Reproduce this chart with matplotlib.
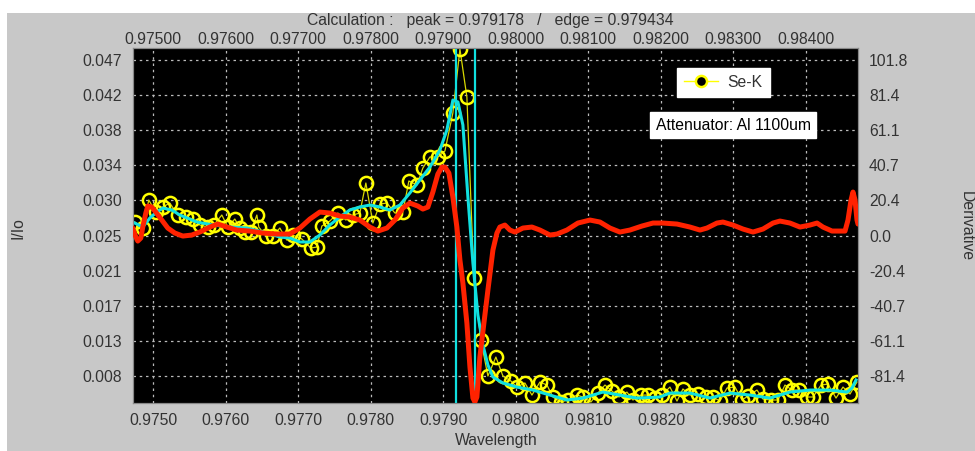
#!/usr/bin/env python

import matplotlib
matplotlib.use('Agg')
import matplotlib.pyplot as plt
from matplotlib.patches import Rectangle
from matplotlib.lines import Line2D


PEAK = 0.979178
EDGE = 0.979434
ATTENUATOR = 'Attenuator: Al 1100um'

# Se-K scan, I/Io
SCAN_WL = [0.974745, 0.974855, 0.974938, 0.975034, 0.975131, 0.975228, 0.975338,
           0.975448, 0.975545, 0.975641, 0.975752, 0.975834, 0.975945, 0.976028,
           0.976124, 0.976193, 0.976262, 0.976345, 0.976428, 0.976455, 0.976552,
           0.976648, 0.976745, 0.976841, 0.976924, 0.977048, 0.977172, 0.977255,
           0.977324, 0.977434, 0.977545, 0.977655, 0.977752, 0.977848, 0.977931,
           0.978028, 0.978124, 0.978221, 0.978331, 0.978441, 0.978524, 0.978634,
           0.978717, 0.978814, 0.978924, 0.979021, 0.979131, 0.979228, 0.979324,
           0.979421, 0.979517, 0.979614, 0.979724, 0.979821, 0.979931, 0.980014,
           0.980124, 0.980221, 0.980331, 0.980428, 0.980510, 0.980621, 0.980717,
           0.980841, 0.980924, 0.981034, 0.981131, 0.981228, 0.981324, 0.981421,
           0.981531, 0.981614, 0.981724, 0.981821, 0.981917, 0.982014, 0.982124,
           0.982221, 0.982303, 0.982400, 0.982510, 0.982621, 0.982717, 0.982814,
           0.982910, 0.983021, 0.983117, 0.983200, 0.983324, 0.983407, 0.983517,
           0.983614, 0.983710, 0.983807, 0.983903, 0.984014, 0.984097, 0.984207,
           0.984303, 0.984414, 0.984510, 0.984607, 0.984703]
SCAN_I = [0.02701, 0.02627, 0.02972, 0.02824, 0.02886, 0.02935, 0.02787,
          0.02762, 0.02738, 0.02664, 0.02639, 0.02664, 0.02787, 0.02639,
          0.02738, 0.02627, 0.02577, 0.02577, 0.02787, 0.02639, 0.02528,
          0.02528, 0.02627, 0.02478, 0.02540, 0.02491, 0.02380, 0.02392,
          0.02651, 0.02713, 0.02812, 0.02725, 0.02787, 0.02812, 0.03182,
          0.02688, 0.02923, 0.02935, 0.02812, 0.02824, 0.03207, 0.03157,
          0.03367, 0.03503, 0.03503, 0.03577, 0.04046, 0.04836, 0.04243,
          0.02009, 0.01244, 0.00800, 0.01034, 0.00800, 0.00738, 0.00664,
          0.00714, 0.00565, 0.00726, 0.00689, 0.00541, 0.00479, 0.00504,
          0.00565, 0.00541, 0.00479, 0.00590, 0.00689, 0.00615, 0.00541,
          0.00602, 0.00504, 0.00565, 0.00565, 0.00528, 0.00565, 0.00664,
          0.00491, 0.00640, 0.00565, 0.00578, 0.00541, 0.00541, 0.00491,
          0.00652, 0.00664, 0.00504, 0.00553, 0.00627, 0.00516, 0.00504,
          0.00504, 0.00689, 0.00627, 0.00627, 0.00541, 0.00541, 0.00689,
          0.00701, 0.00528, 0.00664, 0.00578, 0.00726]

# smoothed scan
FIT_WL = [0.974745, 0.974855, 0.974952, 0.975048, 0.975131, 0.975255, 0.975366,
          0.975600, 0.975821, 0.976055, 0.976290, 0.976510, 0.976745, 0.976883,
          0.977021, 0.977159, 0.977297, 0.977434, 0.977572, 0.977710, 0.977848,
          0.977986, 0.978124, 0.978262, 0.978400, 0.978538, 0.978676, 0.978814,
          0.978952, 0.979048, 0.979131, 0.979200, 0.979269, 0.979338, 0.979407,
          0.979476, 0.979545, 0.979614, 0.979683, 0.979821, 0.980014, 0.980234,
          0.980469, 0.980703, 0.980924, 0.981200, 0.981434, 0.981669, 0.981986,
          0.982124, 0.982400, 0.982676, 0.982952, 0.983228, 0.983503, 0.983779,
          0.984055, 0.984331, 0.984566, 0.984634, 0.984690]
FIT_I = [0.02688, 0.02639, 0.02750, 0.02824, 0.02873, 0.02849, 0.02787,
         0.02701, 0.02664, 0.02639, 0.02627, 0.02577, 0.02516, 0.02503,
         0.02454, 0.02454, 0.02540, 0.02664, 0.02762, 0.02849, 0.02886,
         0.02910, 0.02886, 0.02849, 0.02910, 0.03059, 0.03219, 0.03379,
         0.03589, 0.03836, 0.04206, 0.04182, 0.03898, 0.03009, 0.02195,
         0.01553, 0.01183, 0.00936, 0.00788, 0.00714, 0.00664, 0.00627,
         0.00565, 0.00504, 0.00528, 0.00602, 0.00565, 0.00528, 0.00541,
         0.00590, 0.00590, 0.00528, 0.00590, 0.00565, 0.00528, 0.00602,
         0.00627, 0.00627, 0.00602, 0.00652, 0.00751]

# derivative
DER_WL = [0.974717, 0.974759, 0.974786, 0.974828, 0.974855, 0.974897, 0.974924,
          0.974979, 0.975034, 0.975117, 0.975200, 0.975297, 0.975407, 0.975531,
          0.975641, 0.975779, 0.975890, 0.976014, 0.976152, 0.976331, 0.976510,
          0.976703, 0.976883, 0.977021, 0.977159, 0.977297, 0.977434, 0.977572,
          0.977710, 0.977848, 0.977986, 0.978097, 0.978221, 0.978331, 0.978441,
          0.978538, 0.978648, 0.978717, 0.978786, 0.978855, 0.978924, 0.978979,
          0.979021, 0.979076, 0.979131, 0.979186, 0.979228, 0.979269, 0.979324,
          0.979366, 0.979407, 0.979434, 0.979462, 0.979503, 0.979559, 0.979614,
          0.979683, 0.979738, 0.979779, 0.979848, 0.979917, 0.979986, 0.980097,
          0.980221, 0.980331, 0.980469, 0.980566, 0.980703, 0.980855, 0.981021,
          0.981159, 0.981297, 0.981434, 0.981572, 0.981738, 0.981890, 0.982028,
          0.982221, 0.982400, 0.982538, 0.982634, 0.982772, 0.982855, 0.982993,
          0.983131, 0.983269, 0.983407, 0.983545, 0.983641, 0.983779, 0.983917,
          0.984055, 0.984152, 0.984234, 0.984359, 0.984538, 0.984579, 0.984621,
          0.984648, 0.984676, 0.984703, 0.984717]
DER = [4.41, -0.81, -3.13, -1.39, 4.99, 13.11, 17.16,
       16.58, 13.69, 9.05, 4.41, 1.51, -0.23, 0.35,
       2.09, 4.99, 6.73, 4.99, 3.25, 2.67, 1.51,
       0.93, 0.93, 4.41, 9.63, 13.69, 13.11, 11.37,
       10.79, 9.05, 4.99, 2.67, 4.41, 9.05, 16.00,
       18.90, 17.16, 15.42, 16.58, 25.28, 35.71, 39.77,
       39.77, 36.29, 22.38, 4.99, -14.14, -27.47, -50.66,
       -76.17, -94.14, -96.46, -93.56, -70.37, -50.66, -31.53,
       -8.34, 1.51, 4.99, 6.15, 3.25, 2.09, 4.41,
       4.99, 3.25, 0.35, 0.93, 3.25, 7.31, 9.05,
       7.89, 4.41, 2.09, 3.25, 5.57, 7.31, 7.31,
       6.73, 4.99, 3.25, 4.41, 7.31, 7.89, 6.15,
       3.83, 2.09, 3.83, 7.31, 8.47, 7.31, 4.99,
       6.15, 7.31, 4.99, 2.67, 2.67, 9.05, 20.64,
       25.28, 20.64, 9.05, 6.73]

XTICKS = [0.975, 0.976, 0.977, 0.978, 0.979, 0.980, 0.981, 0.982, 0.983, 0.984]
LEFT_TICKS = [0.0080, 0.01233, 0.01667, 0.0210, 0.02533, 0.02967, 0.0340,
              0.03833, 0.04267, 0.0470]
LEFT_LABELS = ['0.008', '0.013', '0.017', '0.021', '0.025', '0.030', '0.034',
               '0.038', '0.042', '0.047']
RIGHT_TICKS = [-81.4, -61.1, -40.7, -20.4, 0.0, 20.4, 40.7, 61.1, 81.4, 101.8]

TXT = '#333333'
YEL = '#ffff00'
CYAN = '#10e0e0'
RED = '#ff2200'
FS = 11.3


def main():
    plt.rcParams['font.family'] = ['Liberation Sans', 'DejaVu Sans']
    fig = plt.figure(figsize=(9.75, 4.51), dpi=100)
    fig.patches.append(Rectangle((7 / 975., 0), 1, 438 / 451., transform=fig.transFigure,
                                 facecolor='#c8c8c8', edgecolor='none', zorder=-10))

    ax = fig.add_axes([0.1364, 0.1064, 0.7436, 0.7871])
    ax.set_facecolor('black')
    ax.plot(SCAN_WL, SCAN_I, '-', color='#d8d800', linewidth=0.9, zorder=2)
    ax.plot(SCAN_WL, SCAN_I, 'o', markerfacecolor='none', markeredgecolor=YEL,
            markersize=9.5, markeredgewidth=1.8, zorder=3)
    ax.plot(FIT_WL, FIT_I, '-', color=CYAN, linewidth=2.2, zorder=4,
            solid_joinstyle='round')
    ax.axvline(PEAK, color=CYAN, linewidth=1.6, zorder=5)
    ax.axvline(EDGE, color=CYAN, linewidth=1.6, zorder=5)

    ax.set_xlim(0.97472, 0.984717)
    ax.set_ylim(0.00467, 0.04848)
    ax.set_xticks(XTICKS)
    ax.set_xticklabels(['%.4f' % v for v in XTICKS])
    ax.set_yticks(LEFT_TICKS)
    ax.set_yticklabels(LEFT_LABELS)
    ax.tick_params(length=0, labelsize=FS, labelcolor=TXT, pad=8)
    ax.tick_params(axis='x', pad=7)
    ax.grid(True, color='#bbbbbb', linestyle=(0, (2, 3)), linewidth=0.9)
    ax.set_axisbelow(True)
    for s in ax.spines.values():
        s.set_color('#888888')

    top = ax.secondary_xaxis('top')
    top.set_xticks(XTICKS)
    top.set_xticklabels(['%.5f' % v for v in XTICKS])
    top.tick_params(length=0, labelsize=FS, labelcolor=TXT, pad=1)
    top.spines['top'].set_visible(False)

    ax2 = ax.twinx()
    ax2.plot(DER_WL, DER, '-', color=RED, linewidth=3.6, solid_joinstyle='round',
             solid_capstyle='round', zorder=6)
    ax2.set_ylim(-97.05, 108.8)
    ax2.set_yticks(RIGHT_TICKS)
    ax2.set_yticklabels(['%.1f' % v for v in RIGHT_TICKS])
    ax2.tick_params(length=0, labelsize=FS, labelcolor=TXT, pad=8)
    for s in ax2.spines.values():
        s.set_color('#888888')

    h = Line2D([], [], color=YEL, linewidth=1, marker='o', markerfacecolor='black',
               markeredgecolor=YEL, markersize=8, markeredgewidth=1.8)
    leg = ax2.legend([h], ['Se-K'], loc='center', bbox_to_anchor=(0.814, 0.904),
                     fancybox=False, framealpha=1, edgecolor='white', fontsize=FS,
                     handlelength=2.2, handletextpad=0.6, borderpad=0.45)
    for t in leg.get_texts():
        t.set_color(TXT)
    ax2.text(0.828, 0.783, ATTENUATOR, transform=ax2.transAxes, ha='center',
             va='center', fontsize=FS, color='black', zorder=10,
             bbox=dict(facecolor='white', edgecolor='white', pad=4))

    fig.text(490 / 975., 1 - 20 / 451., 'Calculation :   peak = %.6f   /   edge = %.6f'
             % (PEAK, EDGE), ha='center', va='center', fontsize=FS, color=TXT)
    fig.text(496 / 975., 1 - 440 / 451., 'Wavelength', ha='center', va='center',
             fontsize=FS, color=TXT)
    fig.text(18 / 975., 1 - 228 / 451., 'I/Io', ha='center', va='center',
             rotation=90, fontsize=FS, color=TXT)
    fig.text(966 / 975., 1 - 226 / 451., 'Derivative', ha='center', va='center',
             rotation=-90, fontsize=FS, color=TXT)

    fig.savefig('out.png', dpi=100)


if __name__ == '__main__':
    main()
